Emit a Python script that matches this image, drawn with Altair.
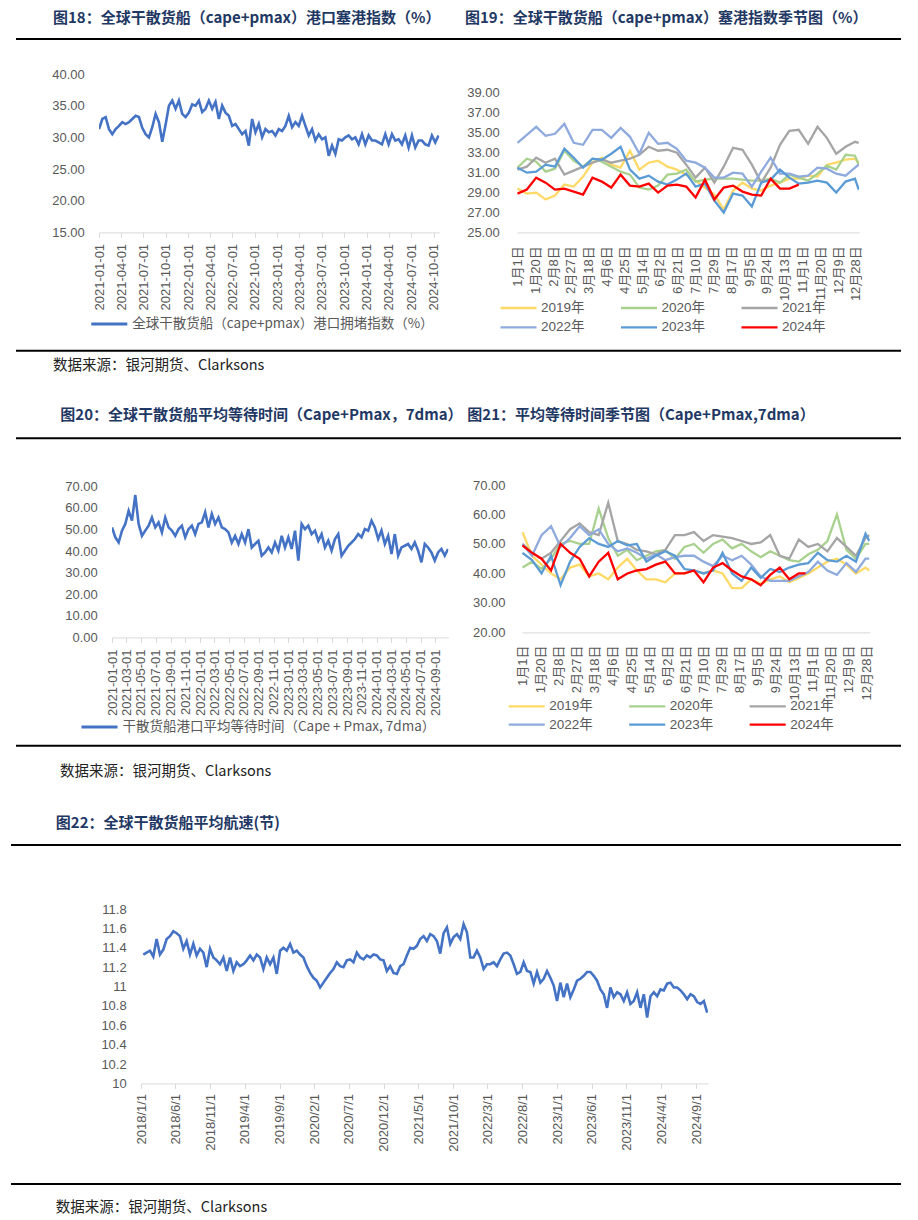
import altair as alt
import pandas as pd

# ---------------- values ----------------
# 图18 港口塞港指数 (%)
cong_start, cong_end = "2021-01-01", "2024-10-21"
cong_values = [
    31.3, 32.9, 33.2, 31.3, 30.5, 31.3, 31.8, 32.4, 32.1, 32.4,
    32.9, 33.4, 33.2, 31.5, 30.5, 30.0, 31.6, 33.7, 32.4, 29.3,
    32.0, 35.0, 35.8, 34.5, 35.8, 33.7, 33.2, 33.9, 35.2, 35.0,
    35.8, 34.0, 34.5, 35.8, 34.5, 35.6, 32.9, 35.0, 33.9, 33.4,
    31.8, 32.1, 31.3, 30.5, 31.0, 28.7, 32.9, 30.8, 32.1, 30.0,
    31.3, 30.8, 31.0, 30.3, 31.3, 31.0, 31.8, 33.4, 31.6, 32.4,
    31.8, 33.4, 31.8, 30.3, 31.3, 29.5, 30.5, 29.7, 30.0, 27.1,
    28.7, 27.4, 29.7, 29.5, 30.0, 30.3, 29.7, 30.0, 28.9, 30.5,
    28.9, 30.3, 29.5, 29.5, 29.2, 28.9, 30.5, 28.9, 30.5, 29.5,
    29.7, 28.9, 30.3, 28.4, 30.3, 28.4, 29.5, 29.5, 28.9, 28.7,
    30.3, 29.2, 30.3]
cong_label = "全球干散货船（cape+pmax）港口拥堵指数（%）"
cong_ticks = ["2021-01-01", "2021-04-01", "2021-07-01", "2021-10-01",
              "2022-01-01", "2022-04-01", "2022-07-01", "2022-10-01",
              "2023-01-01", "2023-04-01", "2023-07-01", "2023-10-01",
              "2024-01-01", "2024-04-01", "2024-07-01", "2024-10-01"]
cong_y_ticks = [15, 20, 25, 30, 35, 40]

# 图20 平均等待时间
wait_start, wait_end = "2021-01-01", "2024-10-23"
wait_values = [
    51.0, 46.4, 44.0, 49.5, 52.6, 58.7, 54.1, 66.0, 52.6, 47.1,
    49.5, 51.8, 55.6, 51.0, 53.3, 48.7, 55.6, 51.0, 49.5, 47.1,
    50.2, 51.8, 46.4, 50.2, 51.8, 47.9, 52.6, 53.3, 58.0, 51.0,
    57.2, 52.6, 55.6, 51.0, 50.2, 48.7, 44.0, 47.1, 43.3, 47.9,
    44.0, 50.2, 41.7, 43.3, 44.8, 37.9, 39.4, 41.7, 39.4, 44.0,
    40.2, 47.1, 41.7, 46.4, 41.0, 49.5, 35.6, 52.6, 50.2, 51.8,
    47.9, 49.5, 44.8, 47.9, 41.7, 44.8, 40.2, 45.6, 47.9, 37.9,
    40.2, 42.5, 44.0, 45.6, 47.9, 46.4, 50.2, 49.5, 54.1, 51.0,
    45.6, 49.5, 43.3, 47.1, 38.6, 47.9, 37.9, 41.7, 42.5, 43.3,
    41.0, 44.0, 40.2, 34.8, 43.3, 41.7, 39.4, 35.6, 39.4, 41.0,
    37.9, 41.0]
wait_label = "干散货船港口平均等待时间（Cape + Pmax, 7dma）"
wait_ticks = ["2021-01-01", "2021-03-01", "2021-05-01", "2021-07-01", "2021-09-01",
              "2021-11-01", "2022-01-01", "2022-03-01", "2022-05-01", "2022-07-01",
              "2022-09-01", "2022-11-01", "2023-01-01", "2023-03-01", "2023-05-01",
              "2023-07-01", "2023-09-01", "2023-11-01", "2024-01-01", "2024-03-01",
              "2024-05-01", "2024-07-01", "2024-09-01"]
wait_y_ticks = [0, 10, 20, 30, 40, 50, 60, 70]

# 图22 平均航速 (节)
speed_start, speed_end = "2018-01-11", "2024-10-20"
speed_values = [
    11.33, 11.35, 11.37, 11.31, 11.49, 11.33, 11.38, 11.49, 11.52, 11.57,
    11.55, 11.52, 11.39, 11.47, 11.33, 11.44, 11.32, 11.39, 11.35, 11.20,
    11.39, 11.30, 11.27, 11.23, 11.30, 11.16, 11.30, 11.16, 11.25, 11.21,
    11.23, 11.27, 11.32, 11.27, 11.33, 11.30, 11.18, 11.30, 11.23, 11.30,
    11.13, 11.37, 11.40, 11.37, 11.44, 11.35, 11.37, 11.33, 11.30, 11.21,
    11.14, 11.09, 11.06, 10.99, 11.04, 11.09, 11.14, 11.18, 11.25, 11.21,
    11.20, 11.27, 11.28, 11.25, 11.35, 11.30, 11.28, 11.32, 11.30, 11.33,
    11.32, 11.28, 11.27, 11.16, 11.21, 11.14, 11.13, 11.21, 11.23, 11.32,
    11.40, 11.39, 11.42, 11.49, 11.52, 11.47, 11.54, 11.52, 11.47,
    11.34, 11.55, 11.61, 11.44, 11.51, 11.54, 11.49, 11.645, 11.56, 11.30,
    11.30, 11.37, 11.30, 11.18, 11.23, 11.23, 11.25, 11.21, 11.28, 11.34,
    11.35, 11.32, 11.23, 11.13, 11.15, 11.25, 11.16, 11.15, 11.03, 11.15,
    11.04, 11.08, 11.16, 11.09, 11.01, 10.85, 11.04, 10.89, 11.03, 10.89,
    10.97, 11.06, 11.08, 11.11, 11.15, 11.15, 11.11, 11.06, 10.97, 10.92,
    10.78, 10.99, 10.89, 10.94, 10.92, 10.85, 10.94, 10.82, 10.85, 10.94,
    10.78, 10.92, 10.68, 10.90, 10.94, 10.90, 10.97, 10.96, 11.03, 11.04,
    10.99, 10.99, 10.96, 10.92, 10.87, 10.92, 10.90, 10.84, 10.82, 10.85,
    10.73]
speed_ticks = ["2018-01-01", "2018-06-01", "2018-11-01", "2019-04-01", "2019-09-01",
               "2020-02-01", "2020-07-01", "2020-12-01", "2021-05-01", "2021-10-01",
               "2022-03-01", "2022-08-01", "2023-01-01", "2023-06-01", "2023-11-01",
               "2024-04-01", "2024-09-01"]
speed_y_ticks = [10, 10.2, 10.4, 10.6, 10.8, 11, 11.2, 11.4, 11.6, 11.8]

# seasonal charts (day of year)
season_names = ["2019年", "2020年", "2021年", "2022年", "2023年", "2024年"]
season_colors = ["#FFD966", "#A9D18E", "#A5A5A5", "#8FAADC", "#5B9BD5", "#FF0000"]
season_widths = [2.3, 2.3, 2.3, 2.3, 2.3, 3.2]
season_ticks = list(range(0, 362, 19))
days_full = list(range(0, 361, 10)) + [364]
cong_days_2024 = list(range(0, 301, 10))
wait_days_2024 = list(range(0, 291, 10)) + [297]

# 图19 塞港指数季节图
cong_2019 = [29.4, 28.9, 29.0, 28.3, 28.7, 29.8, 29.6, 30.6, 32.0, 32.5, 31.8, 31.5, 33.2,
             31.3, 32.0, 32.2, 31.6, 31.3, 30.8, 30.2, 29.5, 28.8, 27.3, 29.2, 30.0, 29.4,
             29.2, 29.7, 30.0, 30.4, 30.4, 30.7, 30.6, 31.8, 32.0, 32.3, 32.4, 32.0]
cong_2020 = [31.5, 32.4, 32.1, 31.1, 31.4, 33.2, 32.2, 31.6, 32.4, 32.1, 31.6, 31.1, 30.8,
             29.5, 29.3, 29.7, 30.8, 30.9, 31.3, 30.1, 30.3, 30.4, 30.4, 30.4, 30.3, 30.2,
             30.2, 30.4, 30.0, 30.8, 30.5, 30.2, 30.9, 31.7, 31.3, 32.8, 32.7, 31.8]
cong_2021 = [31.3, 31.6, 32.5, 32.0, 32.4, 30.8, 31.2, 31.6, 32.0, 32.3, 32.0, 32.2, 32.4,
             32.8, 33.6, 33.2, 33.3, 33.0, 31.8, 30.5, 31.5, 30.0, 31.6, 33.5, 33.3, 31.8,
             30.0, 31.5, 33.8, 35.2, 35.3, 33.9, 35.6, 34.5, 32.9, 33.6, 34.1, 34.0]
cong_2022 = [34.0, 34.8, 35.6, 34.7, 34.9, 35.9, 34.0, 33.8, 35.3, 35.3, 34.5, 35.5, 34.6,
             32.9, 35.0, 33.9, 34.0, 33.4, 32.2, 32.0, 31.5, 30.5, 30.5, 31.0, 30.9, 29.6,
             31.1, 32.5, 30.9, 30.9, 30.6, 30.7, 31.5, 31.4, 30.9, 30.7, 31.5, 31.8]
cong_2023 = [31.5, 31.0, 31.1, 31.8, 31.6, 33.4, 32.5, 31.5, 32.4, 32.3, 32.9, 33.6, 31.3,
             30.4, 30.7, 30.1, 29.8, 30.3, 30.9, 29.6, 29.9, 28.2, 27.0, 28.9, 28.7, 27.6,
             30.0, 30.3, 31.3, 30.5, 29.9, 30.0, 30.2, 30.0, 29.0, 30.1, 30.4, 29.3]
cong_2024 = [28.9, 29.3, 30.5, 30.0, 29.3, 29.4, 29.1, 28.8, 30.5, 30.1, 29.5, 30.8, 29.7,
             29.6, 29.9, 29.0, 29.7, 29.8, 29.6, 28.5, 30.3, 28.3, 29.5, 29.7, 29.1, 28.8,
             28.7, 30.4, 29.4, 29.4, 29.8]
cong_season_y_ticks = [25, 27, 29, 31, 33, 35, 37, 39]

# 图21 平均等待时间季节图
wait_2019 = [54, 46, 43, 40, 38, 42, 43, 39, 40, 38, 42, 45, 41, 38, 38, 37, 40, 40, 41, 40,
             41, 40, 35, 35, 38, 36.5, 38, 39, 37, 38.5, 40, 42, 44, 45, 43, 40, 42, 41]
wait_2020 = [42, 44, 41.5, 45, 50, 51, 50, 50, 62, 52, 46, 48, 44.5, 46, 47.5, 48, 45, 49, 50,
             47, 50, 51.5, 48.5, 50, 47.5, 45.5, 47.5, 46, 44.5, 44, 46.5, 48, 51, 60, 48, 45,
             50, 50]
wait_2021 = [50, 47, 45, 47, 51, 55, 57, 54, 53, 64, 51, 50, 48, 47.5, 46.5, 48, 53, 53, 54,
             51, 53, 52.5, 52, 51, 50, 50.5, 53, 46, 45, 51.5, 49, 50, 47.5, 52, 49, 46, 52, 53]
wait_2022 = [50, 46, 53, 56, 49, 52, 56, 53, 55, 50, 47.5, 48.5, 47, 45, 46.5, 44.5, 45.5, 46,
             46, 44, 42.5, 46, 44.5, 46, 43, 39, 37.5, 37.5, 37.5, 39, 40.5, 44, 41, 39.5,
             43.5, 40.5, 45, 45]
wait_2023 = [47, 44.5, 40, 46, 36, 44, 49, 52, 50, 49, 51, 49.5, 50, 44, 46, 47.5, 46, 41.5, 41,
             40, 41, 47, 40, 37.5, 42, 38.5, 41.5, 40.5, 42, 43, 43.5, 47, 44.5, 44, 46, 44,
             53.5, 51]
wait_2024 = [49.5, 47, 45, 41, 50, 47, 45, 39, 44, 47, 38, 40, 41, 41.5, 43, 44, 40, 40, 41, 37,
             42, 43.5, 41, 39, 38, 36, 39.5, 42, 38, 40, 40]
wait_season_y_ticks = [20, 30, 40, 50, 60, 70]

# ---------------- tables ----------------
df18 = pd.DataFrame({"date": pd.date_range(cong_start, cong_end, periods=len(cong_values)),
                     "value": cong_values, "series": cong_label})
df20 = pd.DataFrame({"date": pd.date_range(wait_start, wait_end, periods=len(wait_values)),
                     "value": wait_values, "series": wait_label})
df22 = pd.DataFrame({"date": pd.date_range(speed_start, speed_end, periods=len(speed_values)),
                     "value": speed_values})


def season_frame(series_list, last_days):
    rows = []
    for i, (name, vals) in enumerate(zip(season_names, series_list)):
        days = last_days if i == len(season_names) - 1 else days_full
        assert len(days) == len(vals), (name, len(days), len(vals))
        for d, v in zip(days, vals):
            rows.append({"day": d, "value": v, "year": name, "k": i})
    return pd.DataFrame(rows)


df19 = season_frame([cong_2019, cong_2020, cong_2021, cong_2022, cong_2023, cong_2024], cong_days_2024)
df21 = season_frame([wait_2019, wait_2020, wait_2021, wait_2022, wait_2023, wait_2024], wait_days_2024)

# ---------------- styling helpers ----------------
FONT = "Liberation Sans, Noto Sans CJK SC"
CJK = "Noto Sans CJK SC"
LC = "#595959"
AXC = "#D9D9D9"
BLUE = "#4472C4"
TITLE_C = "#1F3864"


def dt(s):
    y, m, d = (int(p) for p in s.split("-"))
    return alt.DateTime(year=y, month=m, date=d)


def time_axis(ticks, fmt, pad):
    return alt.Axis(values=[dt(t) for t in ticks], format=fmt, labelAngle=270,
                    labelOverlap=False, labelFlush=False, grid=False,
                    domainColor=AXC, domainWidth=1, tickColor=AXC, tickSize=5,
                    labelPadding=pad, labelFont=FONT, labelFontSize=13,
                    labelColor=LC, title=None)


def y_axis(ticks, fmt, pad):
    return alt.Axis(values=ticks, format=fmt, grid=False, domain=False, ticks=False,
                    tickSize=0, labelPadding=pad, labelFont=FONT, labelFontSize=13,
                    labelColor=LC, title=None)


def season_axis(pad):
    return alt.Axis(values=season_ticks,
                    labelExpr="timeFormat(datetime(2019, 0, 1 + datum.value), '%-m月%-d日')",
                    labelAngle=270, labelOverlap=False, labelFlush=False, grid=False,
                    domainColor=AXC, domainWidth=1, ticks=False, tickSize=0,
                    labelPadding=pad, labelFont=FONT, labelFontSize=13,
                    labelColor=LC, title=None)


def single_legend(lx, ly):
    return alt.Legend(orient="none", legendX=lx, legendY=ly, title=None, padding=0,
                      symbolType="stroke", symbolStrokeWidth=3, symbolSize=1300,
                      labelFont=CJK, labelFontSize=13.5, labelColor=LC, labelLimit=800,
                      labelOffset=3)


def season_legend(lx, ly, colpad, rowpad):
    return alt.Legend(orient="none", legendX=lx, legendY=ly, title=None, padding=0,
                      direction="horizontal", columns=3, columnPadding=colpad,
                      rowPadding=rowpad, clipHeight=16,
                      symbolType="stroke", symbolStrokeWidth=3, symbolSize=1300,
                      labelFont=FONT, labelFontSize=13.5, labelColor=LC, labelLimit=300,
                      labelOffset=3)


dummy = pd.DataFrame({"z": [0]})


def spacer(w, h):
    return alt.Chart(dummy).mark_point(opacity=0).encode(
        x=alt.value(0), y=alt.value(0)).properties(width=w, height=h)


# ---------------- charts ----------------
c18 = alt.Chart(df18).mark_line(strokeWidth=2.6, clip=True).encode(
    x=alt.X("date:T", scale=alt.Scale(domain=[dt("2021-01-01"), dt("2024-10-24")], nice=False),
            axis=time_axis(cong_ticks, "%Y-%m-%d", 6)),
    y=alt.Y("value:Q", scale=alt.Scale(domain=[15, 40], nice=False, zero=False),
            axis=y_axis(cong_y_ticks, ".2f", 14.7)),
    color=alt.Color("series:N", scale=alt.Scale(range=[BLUE]), legend=single_legend(-9.7, 230)),
).properties(width=340.3, height=158.4)

# plot top sits 19px above the 39.00 tick, so the domain runs a little past 39
c19 = alt.Chart(df19).mark_line(clip=True).encode(
    x=alt.X("day:Q", scale=alt.Scale(domain=[-0.5, 364.5], nice=False, zero=False),
            axis=season_axis(13.3)),
    y=alt.Y("value:Q", scale=alt.Scale(domain=[25, 40.908], nice=False, zero=False),
            axis=y_axis(cong_season_y_ticks, ".2f", 17.8)),
    color=alt.Color("year:N", scale=alt.Scale(domain=season_names, range=season_colors),
                    legend=season_legend(-18, 226, 34.5, 3.4)),
    strokeWidth=alt.StrokeWidth("year:N", scale=alt.Scale(domain=season_names, range=season_widths),
                                legend=None),
    order=alt.Order("day:Q"),
).properties(width=342.2, height=158.4)

c20 = alt.Chart(df20).mark_line(strokeWidth=2.6, clip=True).encode(
    x=alt.X("date:T", scale=alt.Scale(domain=[dt("2021-01-01"), dt("2024-10-24")], nice=False),
            axis=time_axis(wait_ticks, "%Y-%m-%d", 6.6)),
    y=alt.Y("value:Q", scale=alt.Scale(domain=[0, 70.65], nice=False),
            axis=y_axis(wait_y_ticks, ".2f", 14.7)),
    color=alt.Color("series:N", scale=alt.Scale(range=[BLUE]), legend=single_legend(-32.5, 222)),
).properties(width=336.3, height=152.4)

c21 = alt.Chart(df21).mark_line(clip=True).encode(
    x=alt.X("day:Q", scale=alt.Scale(domain=[-0.5, 364.5], nice=False, zero=False),
            axis=season_axis(12.6)),
    y=alt.Y("value:Q", scale=alt.Scale(domain=[20, 70], nice=False, zero=False),
            axis=y_axis(wait_season_y_ticks, ".2f", 17)),
    color=alt.Color("year:N", scale=alt.Scale(domain=season_names, range=season_colors),
                    legend=season_legend(-14.8, 213.4, 34.5, 2.3)),
    strokeWidth=alt.StrokeWidth("year:N", scale=alt.Scale(domain=season_names, range=season_widths),
                                legend=None),
    order=alt.Order("day:Q"),
).properties(width=347.8, height=147.4)

c22 = alt.Chart(df22).mark_line(strokeWidth=2.6, color=BLUE, clip=True).encode(
    x=alt.X("date:T", scale=alt.Scale(domain=[dt("2018-01-01"), dt("2024-10-24")], nice=False),
            axis=time_axis(speed_ticks, "%Y/%-m/%-d", 5)),
    y=alt.Y("value:Q", scale=alt.Scale(domain=[10, 11.8], nice=False, zero=False),
            axis=y_axis(speed_y_ticks, ".1~f", 14.8)),
).properties(width=567.1, height=174.4)


# ---------------- page decoration (titles, rules, sources) ----------------
def txt(s, x, y, size, weight="normal", color="#222222", font=CJK):
    return alt.Chart(dummy).mark_text(text=s, align="left", baseline="middle", fontSize=size,
                                      fontWeight=weight, color=color, font=font).encode(
        x=alt.value(x), y=alt.value(y))


def hrule(x1, x2, y):
    return alt.Chart(dummy).mark_rule(color="#000000", strokeWidth=2).encode(
        x=alt.value(x1), x2=alt.value(x2), y=alt.value(y))


SRC = "数据来源：银河期货、Clarksons"
decor = alt.layer(
    txt("图18：全球干散货船（cape+pmax）港口塞港指数（%）", 42, 9.5, 15, "bold", TITLE_C),
    txt("图19：全球干散货船（cape+pmax）塞港指数季节图（%）", 454, 9.5, 15, "bold", TITLE_C),
    hrule(5, 890, 31),
    hrule(5, 890, 342.7),
    txt(SRC, 42, 358, 14.5),
    txt("图20：全球干散货船平均等待时间（Cape+Pmax，7dma）", 49.3, 407.3, 15, "bold", TITLE_C),
    txt("图21：平均等待时间季节图（Cape+Pmax,7dma）", 456.3, 407.3, 15, "bold", TITLE_C),
    hrule(5, 890, 430.3),
    hrule(5, 890, 737.7),
    txt(SRC, 49, 763.7, 14.5),
    txt("图22：全球干散货船平均航速(节)", 44.8, 814.5, 15, "bold", TITLE_C),
    hrule(0, 890, 837),
    hrule(0, 890, 1176),
    txt(SRC, 44.8, 1200.3, 14.5),
).properties(width=890, height=65.3)


def hc(*charts):
    return alt.hconcat(*charts, spacing=0, bounds="flush").resolve_scale(
        color="independent", strokeWidth="independent").resolve_legend(color="independent")


def vc(*charts):
    return alt.vconcat(*charts, spacing=0, bounds="flush").resolve_scale(
        color="independent", strokeWidth="independent").resolve_legend(color="independent")


# rows are nested concats, which take no height in a flush layout,
# so the spacers between rows carry the full distance from row top to row top
row1 = hc(spacer(87.7, 1), c18, spacer(76.8, 1), c19)
row2 = hc(spacer(100.7, 1), c20, spacer(72.8, 1), c21)
row3 = hc(spacer(129.6, 1), c22)

chart = vc(decor, row1, spacer(1, 411), row2, spacer(1, 424), row3).properties(
    padding=0
).configure_view(stroke=None)

chart.save("out.html", embed_options={"renderer": "svg", "actions": False})
